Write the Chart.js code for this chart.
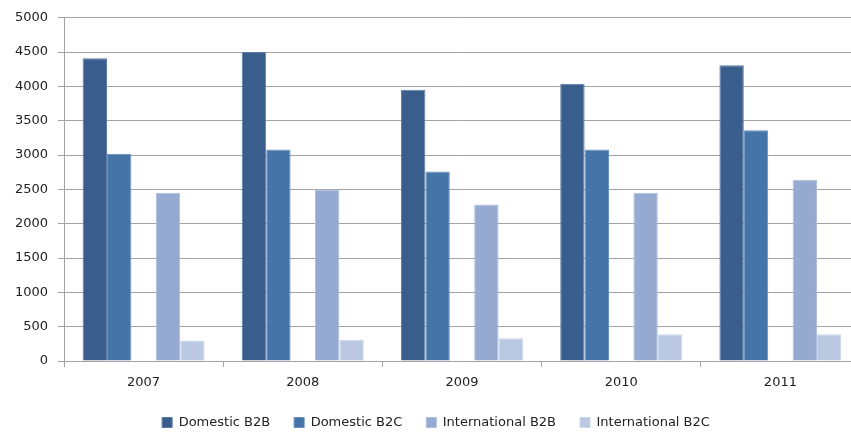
<!DOCTYPE html>
<html>
<head>
<meta charset="utf-8">
<script src="https://cdn.jsdelivr.net/npm/chart.js@4/dist/chart.umd.min.js"></script>
<style>
  html, body { margin: 0; padding: 0; background: #ffffff; overflow: hidden; }
  #wrap { width: 883px; height: 432px; }
</style>
</head>
<body>
<div id="wrap"><canvas id="c" width="883" height="432"></canvas></div>
<script>
// Yearly figures by channel
const years = ['2007', '2008', '2009', '2010', '2011'];
const domesticB2B = [4410, 4500, 3950, 4040, 4310];
const domesticB2C = [3020, 3080, 2760, 3080, 3360];
const internationalB2B = [2450, 2500, 2280, 2450, 2640];
const internationalB2C = [300, 310, 330, 390, 390];
// empty slot that keeps the gap between domestic and international bars
const emptySlot = [null, null, null, null, null];
const yTicks = [0, 500, 1000, 1500, 2000, 2500, 3000, 3500, 4000, 4500, 5000];

const FONT = 'DejaVu Sans';
const GRID = '#a3a3a3';
const TEXT = '#222222';

function bar(label, data, fill, edge) {
  return {
    label, data,
    backgroundColor: fill,
    borderColor: edge,
    borderWidth: 1,
    borderSkipped: 'bottom',
    categoryPercentage: 0.766,
    barPercentage: 1.0
  };
}

new Chart(document.getElementById('c'), {
  type: 'bar',
  data: {
    labels: years,
    datasets: [
      bar('Domestic B2B', domesticB2B, '#3a5e8c', '#5c7ca6'),
      bar('Domestic B2C', domesticB2C, '#4574a8', '#6a90bd'),
      bar('', emptySlot, 'rgba(0,0,0,0)', 'rgba(0,0,0,0)'),
      bar('International B2B', internationalB2B, '#95a9d1', '#aebde0'),
      bar('International B2C', internationalB2C, '#bac8e2', '#ccd7ec')
    ]
  },
  options: {
    responsive: false,
    devicePixelRatio: 1,
    animation: false,
    layout: { padding: { left: 12, right: 23, top: 16, bottom: -7 } },
    plugins: {
      tooltip: { enabled: false },
      legend: {
        position: 'bottom',
        labels: {
          filter: (item) => item.text !== '',
          boxWidth: 10,
          boxHeight: 10,
          padding: 24,
          color: TEXT,
          font: { family: FONT, size: 13 }
        }
      }
    },
    scales: {
      x: {
        grid: {
          offset: true,
          drawOnChartArea: false,
          drawTicks: true,
          tickLength: 6,
          color: GRID,
          tickColor: GRID
        },
        border: { display: true, color: GRID, width: 1 },
        ticks: {
          color: TEXT,
          padding: 8,
          font: { family: FONT, size: 13 },
          maxRotation: 0
        },
        afterFit: (s) => { s.height = 31; }
      },
      y: {
        min: 0,
        max: 5000,
        afterBuildTicks: (s) => { s.ticks = yTicks.map(v => ({ value: v })); },
        grid: {
          color: GRID,
          tickColor: GRID,
          tickLength: 6,
          drawTicks: true
        },
        border: { display: true, color: GRID, width: 1 },
        ticks: {
          color: TEXT,
          padding: 10,
          font: { family: FONT, size: 13 },
          callback: (v) => String(v)
        },
        afterFit: (s) => { s.width = 52; }
      }
    }
  }
});
</script>
</body>
</html>
